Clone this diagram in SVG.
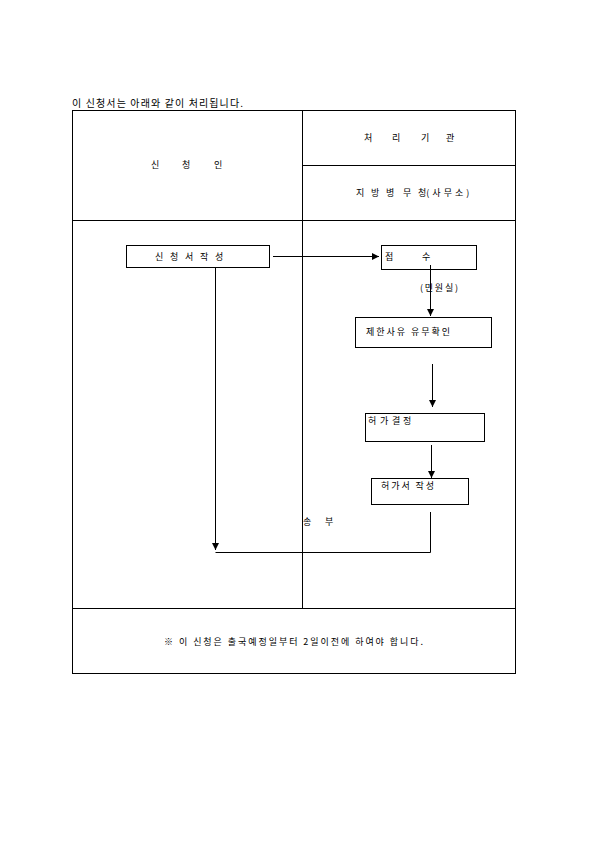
<svg xmlns="http://www.w3.org/2000/svg" width="595" height="842" viewBox="0 0 595 842">
<defs>
<style>
text{font-family:"Noto Sans CJK KR","Noto Sans",sans-serif;font-size:9px;fill:#000}
.ln{stroke:#000;stroke-width:1;fill:none}
.box{stroke:#000;stroke-width:1;fill:#fff}
</style>
<marker id="ah" viewBox="0 0 8 8" refX="8" refY="4" markerWidth="7" markerHeight="7" orient="auto" markerUnits="userSpaceOnUse">
<path d="M0,0 L8,4 L0,8 z" fill="#000"/>
</marker>
</defs>
<rect width="595" height="842" fill="#fff"/>
<text x="72" y="107" style="font-size:10px" textLength="171" lengthAdjust="spacing">이 신청서는 아래와 같이 처리됩니다.</text>
<g id="table">
<rect class="ln" x="72.5" y="110.5" width="443" height="563"/>
<line class="ln" x1="302.5" y1="110" x2="302.5" y2="608"/>
<line class="ln" x1="302" y1="165.5" x2="515" y2="165.5"/>
<line class="ln" x1="72" y1="220.5" x2="515" y2="220.5"/>
<line class="ln" x1="72" y1="608.5" x2="515" y2="608.5"/>
<text x="151 182 214" y="168">신청인</text>
<text x="364 392 421 446" y="141">처리기관</text>
<text x="356 371 386 403 418" y="196">지방병무청<tspan textLength="43" lengthAdjust="spacing">(사무소)</tspan></text>
<text x="164" y="645" textLength="259" lengthAdjust="spacing">※ 이 신청은 출국예정일부터 2일이전에 하여야 합니다.</text>
<text x="303 325" y="525">송부</text>
</g>
<g id="connectors">
<line class="ln" x1="273" y1="256.5" x2="379" y2="256.5" marker-end="url(#ah)"/>
<line class="ln" x1="430.5" y1="265" x2="430.5" y2="316" marker-end="url(#ah)"/>
<line class="ln" x1="432.5" y1="364" x2="432.5" y2="407" marker-end="url(#ah)"/>
<line class="ln" x1="431.5" y1="445" x2="431.5" y2="478" marker-end="url(#ah)"/>
<polyline class="ln" points="430.5,512 430.5,552.5 215.5,552.5"/>
<line class="ln" x1="215.5" y1="268" x2="215.5" y2="550" marker-end="url(#ah)"/>
</g>
<g id="n1">
<rect class="box" x="126.5" y="245.5" width="143" height="22"/>
<text x="155 170 185 200 215" y="260">신청서작성</text>
</g>
<g id="n2">
<rect class="box" x="381.5" y="245.5" width="95" height="24"/>
<text x="385 422" y="260">접수</text>
<line class="ln" x1="430.5" y1="265" x2="430.5" y2="269"/>
</g>
<text x="420" y="291" textLength="38" lengthAdjust="spacing">(민원실)</text>
<g id="n3">
<rect class="box" x="355.5" y="317.5" width="136" height="30"/>
<text x="366" y="335" textLength="84" lengthAdjust="spacing">제한사유 유무확인</text>
</g>
<g id="n4">
<rect class="box" x="365.5" y="413.5" width="119" height="28"/>
<text x="368 380 392 403" y="424">허가결정</text>
</g>
<g id="n5">
<rect class="box" x="371.5" y="478.5" width="97" height="26"/>
<text x="381" y="489" textLength="53" lengthAdjust="spacing">허가서 작성</text>
</g>
</svg>
